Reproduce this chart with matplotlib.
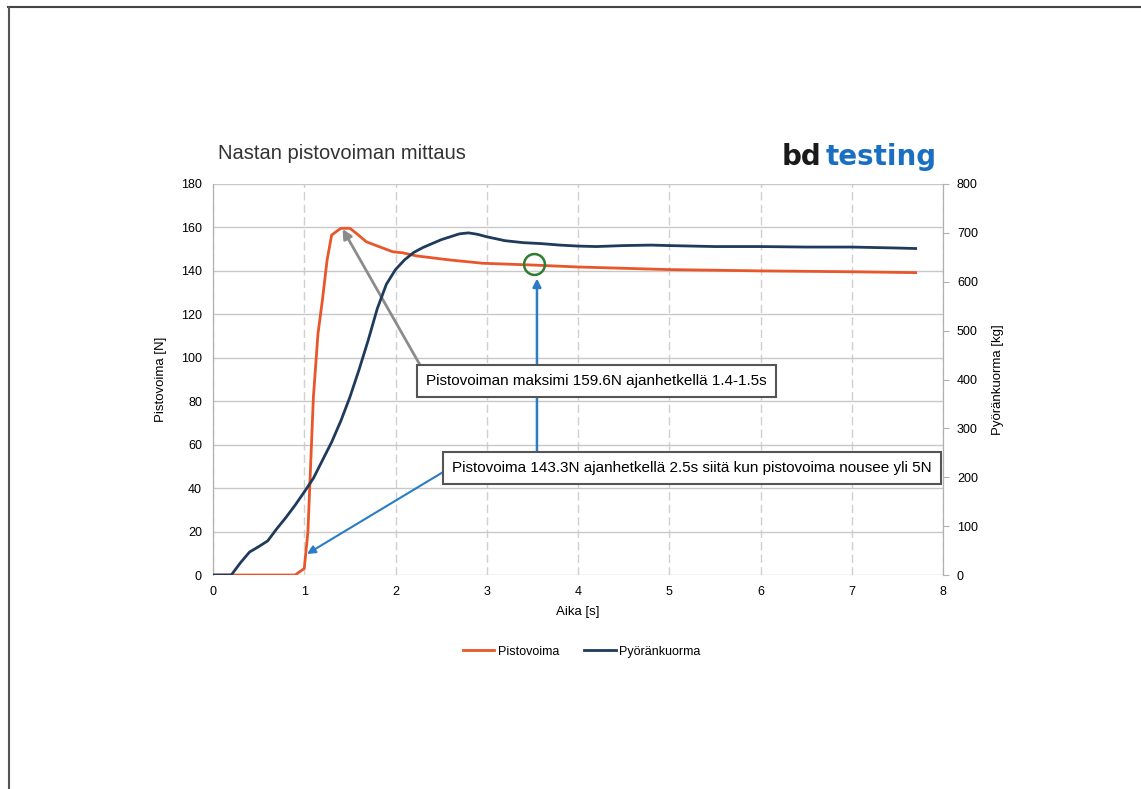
import matplotlib
matplotlib.use('Agg')
import matplotlib.pyplot as plt
from matplotlib.lines import Line2D

plt.rcParams['font.family'] = ['Liberation Sans', 'DejaVu Sans']

# Pistovoima [N]
t_force = [0, 0.9, 1.0, 1.04, 1.1, 1.15, 1.2, 1.25, 1.3, 1.4, 1.5, 1.57, 1.68, 1.83,
           1.97, 2.08, 2.23, 2.6, 2.96, 3.5, 4.0, 5.0, 6.0, 7.0, 7.7]
force = [0, 0, 3, 20, 82, 111, 127, 145, 156.5, 159.6, 159.6, 157.3, 153.4, 151,
         148.8, 148.3, 146.9, 145, 143.5, 142.7, 141.8, 140.6, 140, 139.6, 139.2]

# Pyöränkuorma [kg]
t_load = [0, 0.2, 0.3, 0.4, 0.5, 0.6, 0.7, 0.8, 0.9, 1.0, 1.1, 1.2, 1.3, 1.4, 1.5,
          1.6, 1.7, 1.8, 1.9, 2.0, 2.1, 2.2, 2.3, 2.4, 2.5, 2.6, 2.7, 2.8, 2.9, 3.0,
          3.2, 3.4, 3.6, 3.8, 4.0, 4.2, 4.5, 4.8, 5.0, 5.5, 6.0, 6.5, 7.0, 7.5, 7.7]
load = [0, 0, 25, 47, 58, 70, 95, 118, 143, 170, 198, 235, 272, 315, 364,
        420, 480, 545, 595, 625, 645, 660, 670, 678, 686, 692, 698, 700, 697, 692,
        684, 680, 678, 675, 673, 672, 674, 675, 674, 672, 672, 671, 671, 669, 668]

orange = '#e8562a'
navy = '#1f3b5c'
arrow_blue = '#2a7cc4'

fig = plt.figure(figsize=(11.41, 7.89), dpi=100)
ax = fig.add_axes([0.1867, 0.2712, 0.6398, 0.4956])
ax2 = ax.twinx()

ax.plot(t_force, force, color=orange, lw=2, zorder=3)
ax2.plot(t_load, load, color=navy, lw=2, zorder=3)

ax.set_xlim(0, 8)
ax.set_ylim(0, 180)
ax2.set_ylim(0, 800)
ax.set_xticks(range(0, 9))
ax.set_yticks(range(0, 181, 20))
ax2.set_yticks(range(0, 801, 100))

ax.yaxis.grid(True, color='#c8c8c8', lw=1)
ax.xaxis.grid(True, color='#d0d0d0', lw=1, ls=(0, (6, 3)))
ax.set_axisbelow(True)

for a in (ax, ax2):
    for s in a.spines.values():
        s.set_color('#b0b0b0')
    a.spines['top'].set_visible(False)
    a.spines['bottom'].set_visible(False)
ax.tick_params(axis='both', length=0, labelsize=9, pad=8)
ax2.tick_params(axis='y', length=4, color='#b0b0b0', labelsize=9, pad=6)

ax.set_xlabel('Aika [s]', fontsize=9.5, labelpad=6)
ax.set_ylabel('Pistovoima [N]', fontsize=9.5, labelpad=10)
ax2.set_ylabel('Pyöränkuorma [kg]', fontsize=9.5, rotation=90, labelpad=10)

# marker circle at 3.5 s
ax.plot([3.52], [143.2], marker='o', ms=15, mfc='none', mec='#2e7d32', mew=1.8, zorder=5)

box = dict(boxstyle='square,pad=0.6', fc='white', ec='#555555', lw=1.5)
ax.annotate('Pistovoiman maksimi 159.6N ajanhetkellä 1.4-1.5s',
            xy=(1.42, 159.3), xytext=(4.2, 89.3), ha='center', va='center',
            fontsize=11, bbox=box, zorder=6,
            arrowprops=dict(arrowstyle='-|>', color='#8c8c8c', lw=2,
                            mutation_scale=14, shrinkA=0, shrinkB=0,
                            relpos=(0, 0.9)))
ax.annotate('Pistovoima 143.3N ajanhetkellä 2.5s siitä kun pistovoima nousee yli 5N',
            xy=(1.03, 9.7), xytext=(5.25, 49.3), ha='center', va='center',
            fontsize=11, bbox=box, zorder=6,
            arrowprops=dict(arrowstyle='-|>', color=arrow_blue, lw=1.5,
                            mutation_scale=12, shrinkA=0, shrinkB=0,
                            relpos=(0, 0.6)))
ax.annotate('', xy=(3.55, 136.5), xytext=(3.55, 56.5),
            arrowprops=dict(arrowstyle='-|>', color=arrow_blue, lw=1.8,
                            mutation_scale=12, shrinkA=0, shrinkB=0), zorder=4)

handles = [Line2D([], [], color=orange, lw=2), Line2D([], [], color=navy, lw=2)]
fig.legend(handles, ['Pistovoima', 'Pyöränkuorma'], loc='center',
           bbox_to_anchor=(0.51, 0.174), ncol=2, frameon=False, fontsize=9,
           handlelength=2.5, handletextpad=0.3, columnspacing=2)

fig.text(0.191, 0.798, 'Nastan pistovoiman mittaus', fontsize=14.5, color='#333333')
fig.text(0.685, 0.791, 'bd', fontsize=20, fontweight='bold', color='#1a1a1a',
         family='DejaVu Sans')
fig.text(0.724, 0.791, 'testing', fontsize=20, fontweight='bold', color='#1b6fc2',
         family='DejaVu Sans')

# scanned page edges
fig.add_artist(Line2D([0.007, 1.0], [0.991, 0.991], color='#444444', lw=1.5))
fig.add_artist(Line2D([0.008, 0.008], [0.0, 0.991], color='#555555', lw=1.5))

fig.savefig('out.png', dpi=100)
